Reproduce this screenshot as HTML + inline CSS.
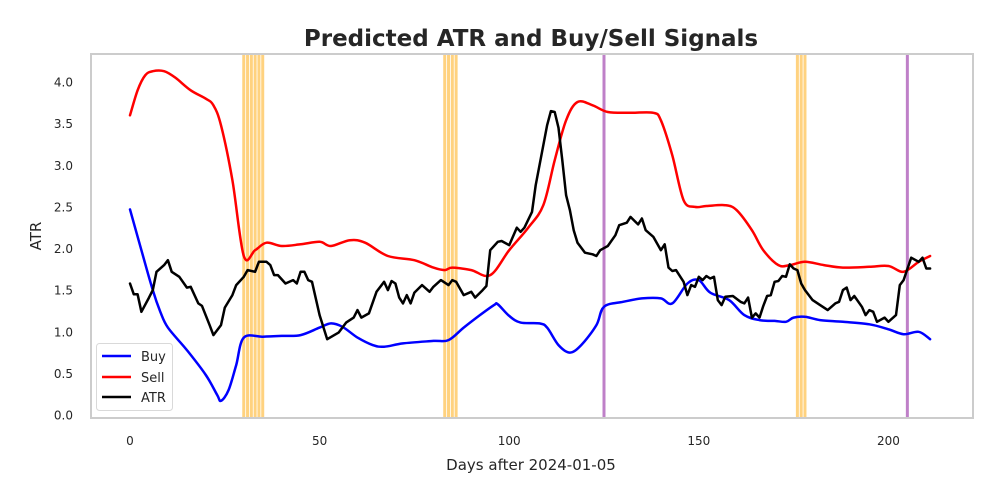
<!DOCTYPE html>
<html><head><meta charset="utf-8"><style>
html,body{margin:0;padding:0;background:#fff;}
svg{display:block;font-family:"DejaVu Sans","Liberation Sans",sans-serif;}
</style></head><body>
<svg id="chart" width="1000" height="500" viewBox="0 0 1000 500">
<rect x="0" y="0" width="1000" height="500" fill="#fff"/>
<text x="531" y="46" text-anchor="middle" font-size="23" font-weight="bold" fill="#262626">Predicted ATR and Buy/Sell Signals</text>
<text x="531" y="470" text-anchor="middle" font-size="15" fill="#262626">Days after 2024-01-05</text>
<text transform="translate(41,236) rotate(-90)" text-anchor="middle" font-size="15" fill="#262626">ATR</text>
<g id="ticks"></g>
<g id="vlines"></g>
<g id="series"></g>
<rect x="91" y="54" width="882" height="364" fill="none" stroke="#cccccc" stroke-width="2"/>
<g>
<rect x="96.5" y="343.5" width="76" height="67" rx="3" fill="#fff" fill-opacity="0.8" stroke="#d9d9d9"/>
<g><line x1="102" y1="356" x2="131" y2="356" stroke="#0000ff" stroke-width="2.5"/><text x="141" y="361" font-size="13" fill="#262626">Buy</text></g>
<g><line x1="102" y1="377" x2="131" y2="377" stroke="#ff0000" stroke-width="2.5"/><text x="141" y="382" font-size="13" fill="#262626">Sell</text></g>
<g><line x1="102" y1="397" x2="131" y2="397" stroke="#000" stroke-width="2.5"/><text x="141" y="402" font-size="13" fill="#262626">ATR</text></g>
</g>
</svg>
<script>
const xTicks = [0, 50, 100, 150, 200];
const yTicks = [0.0, 0.5, 1.0, 1.5, 2.0, 2.5, 3.0, 3.5, 4.0];
const orangeDays = [30, 31, 32, 33, 34, 35, 83, 84, 85, 86, 176, 177, 178];
const purpleDays = [125, 205];
const buyDays = [0,3,6,8,10,15,20,23,24,26,28,30,35,40,45,50,53,56,60,64,67,72,80,84,88,92,96,97,100,103,108,110,113,116,119,123,125,130,135,140,143,147,150,153,158,162,166,170,173,175,178,182,188,195,200,204,208,211];
const buyVals = [2.47,1.98,1.5,1.24,1.05,0.78,0.48,0.24,0.17,0.3,0.6,0.93,0.94,0.95,0.96,1.05,1.1,1.06,0.93,0.84,0.82,0.86,0.89,0.9,1.05,1.19,1.32,1.33,1.19,1.11,1.1,1.05,0.84,0.75,0.84,1.08,1.3,1.36,1.4,1.4,1.34,1.58,1.62,1.47,1.38,1.2,1.14,1.13,1.12,1.17,1.18,1.14,1.12,1.09,1.03,0.97,1.0,0.91];
const sellDays = [0,2,4,6,9,12,16,20,22,24,27,30,33,36,40,45,50,53,58,62,68,75,80,83,85,90,95,100,105,109,112,115,118,122,126,132,138,140,143,146,149,152,157,160,164,167,171,174,178,183,188,195,200,204,208,211];
const sellVals = [3.6,3.9,4.08,4.13,4.13,4.05,3.9,3.8,3.72,3.48,2.82,1.91,1.98,2.07,2.03,2.05,2.08,2.03,2.1,2.07,1.91,1.86,1.77,1.74,1.77,1.74,1.68,1.98,2.25,2.52,3.06,3.54,3.76,3.72,3.64,3.63,3.63,3.54,3.12,2.58,2.5,2.51,2.52,2.46,2.22,1.98,1.8,1.8,1.84,1.8,1.77,1.78,1.79,1.72,1.84,1.91];
const atrDays = [0,1,2,3,5,6,7,9,10,11,13,15,16,18,19,21,22,24,25,27,28,30,31,33,34,36,37,38,39,41,43,44,45,46,47,48,50,52,55,57,59,60,61,63,65,67,68,69,70,71,72,73,74,75,77,79,80,82,84,85,86,88,90,91,93,94,95,97,98,100,102,103,104,106,107,109,110,111,112,113,114,115,116,117,118,120,122,123,124,126,128,129,131,132,134,135,136,138,140,141,142,143,144,146,147,148,149,150,151,152,153,154,155,156,157,159,161,162,163,164,165,166,167,168,169,170,171,172,173,174,175,176,177,178,180,182,184,186,187,188,189,190,191,193,194,195,196,197,199,200,202,203,204,206,208,209,210,211];
const atrVals = [1.58,1.45,1.45,1.24,1.41,1.5,1.72,1.8,1.86,1.72,1.66,1.53,1.54,1.34,1.31,1.08,0.96,1.08,1.29,1.44,1.56,1.66,1.74,1.72,1.84,1.84,1.8,1.68,1.68,1.58,1.62,1.58,1.72,1.72,1.62,1.6,1.2,0.91,0.99,1.11,1.17,1.26,1.17,1.22,1.48,1.6,1.5,1.61,1.58,1.41,1.34,1.44,1.34,1.47,1.56,1.48,1.54,1.62,1.56,1.62,1.6,1.44,1.48,1.41,1.5,1.55,1.98,2.08,2.09,2.04,2.25,2.2,2.25,2.44,2.76,3.24,3.48,3.65,3.64,3.45,3.06,2.64,2.46,2.22,2.07,1.95,1.93,1.91,1.98,2.03,2.16,2.28,2.31,2.38,2.29,2.36,2.22,2.14,1.98,2.05,1.77,1.73,1.74,1.6,1.44,1.56,1.54,1.66,1.62,1.67,1.64,1.66,1.38,1.32,1.42,1.43,1.36,1.34,1.41,1.17,1.22,1.17,1.31,1.43,1.44,1.6,1.61,1.67,1.66,1.81,1.76,1.74,1.58,1.5,1.38,1.32,1.26,1.34,1.36,1.5,1.53,1.38,1.43,1.3,1.2,1.26,1.24,1.12,1.17,1.12,1.2,1.56,1.62,1.89,1.84,1.89,1.76,1.76];

const NS = 'http://www.w3.org/2000/svg';
const xs = d => 130 + d * 3.792;
const ys = v => 415 - v * 83.25;
function mk(tag, attrs, parent) {
  const e = document.createElementNS(NS, tag);
  for (const k in attrs) e.setAttribute(k, attrs[k]);
  parent.appendChild(e);
  return e;
}
const ticks = document.getElementById('ticks');
xTicks.forEach(t => {
  const el = mk('text', {x: xs(t), y: 445, 'text-anchor': 'middle', 'font-size': 12, fill: '#262626'}, ticks);
  el.textContent = String(t);
  
  
});
yTicks.forEach(t => {
  const el = mk('text', {x: 73, y: ys(t) + 4.5, 'text-anchor': 'end', 'font-size': 12, fill: '#262626'}, ticks);
  el.textContent = t.toFixed(1);
  
  
});
const vl = document.getElementById('vlines');
orangeDays.forEach(d => {
  const el = mk('line', {x1: xs(d), x2: xs(d), y1: 55, y2: 417, stroke: '#ffd27f', 'stroke-width': 3}, vl);
  
  
});
purpleDays.forEach(d => {
  const el = mk('line', {x1: xs(d), x2: xs(d), y1: 55, y2: 417, stroke: '#bf80c8', 'stroke-width': 3}, vl);
  
  
});
const sg = document.getElementById('series');
function smoothPath(P) {
  let d = 'M' + P[0][0].toFixed(1) + ',' + P[0][1].toFixed(1);
  for (let i = 0; i < P.length - 1; i++) {
    const p0 = P[Math.max(0, i - 1)], p1 = P[i], p2 = P[i + 1], p3 = P[Math.min(P.length - 1, i + 2)];
    const c1 = [p1[0] + (p2[0] - p0[0]) / 6, p1[1] + (p2[1] - p0[1]) / 6];
    const c2 = [p2[0] - (p3[0] - p1[0]) / 6, p2[1] - (p3[1] - p1[1]) / 6];
    d += ' C' + c1.map(v => v.toFixed(1)).join(',') + ' ' + c2.map(v => v.toFixed(1)).join(',') + ' ' + p2[0].toFixed(1) + ',' + p2[1].toFixed(1);
  }
  return d;
}
function series(days, vals, color, name, smooth) {
  const P = days.map((d, i) => [xs(d), ys(vals[i])]);
  let el;
  if (smooth) {
    el = mk('path', {d: smoothPath(P), fill: 'none', stroke: color, 'stroke-width': 2.5, 'stroke-linejoin': 'round', 'stroke-linecap': 'round'}, sg);
  } else {
    el = mk('polyline', {points: P.map(p => p[0].toFixed(1) + ',' + p[1].toFixed(1)).join(' '), fill: 'none', stroke: color, 'stroke-width': 2.5, 'stroke-linejoin': 'round', 'stroke-linecap': 'round'}, sg);
  }
  
  
}
series(buyDays, buyVals, '#0000ff', 'buy-line', true);
series(sellDays, sellVals, '#ff0000', 'sell-line', true);
series(atrDays, atrVals, '#000000', 'atr-line', false);
</script>
</body></html>
